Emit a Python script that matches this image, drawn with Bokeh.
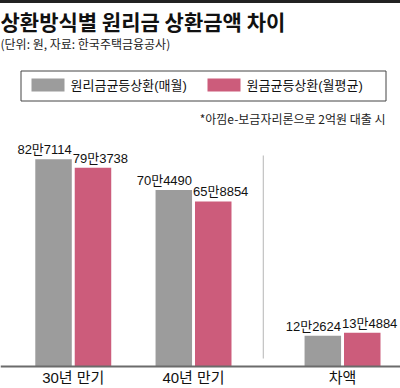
import numpy as np
from bokeh.plotting import figure
from bokeh.models import Range1d, Label, Span, ColumnDataSource
from bokeh.core.properties import value
from bokeh.embed import file_html
from bokeh.resources import INLINE

# ---------------- data ----------------
categories = ["30년 만기", "40년 만기", "차액"]
series_names = ["원리금균등상환(매월)", "원금균등상환(월평균)"]
equal_payment = [827114, 704490, 122624]      # 원리금균등상환(매월)
equal_principal = [793738, 658854, 134884]    # 원금균등상환(월평균)
title_text = "상환방식별 원리금 상환금액 차이"
subtitle_text = "(단위: 원, 자료: 한국주택금융공사)"
note_text = "*아낌e-보금자리론으로 2억원 대출 시"

# ---------------- style / layout ----------------
RULE = 3                      # top rule thickness (CSS border), px
W, H = 400, 388 - RULE
BASE_PX = 366 - RULE          # baseline position from canvas top, px
PX_PER_WON = 2.505e-4
Y_MAX = BASE_PX / PX_PER_WON
Y_MIN = -(H - BASE_PX) / PX_PER_WON
X0, X1 = -0.605, 2.721
GRAY = "#9c9c9c"
PINK = "#cc5c7b"
COLORS = [GRAY, PINK]
KR = "Noto Sans CJK KR"
MIXED = "Liberation Sans, Noto Sans CJK KR"
NARROW = "Liberation Sans Narrow, Liberation Sans, Noto Sans CJK KR"

def fmt(v):
    return f"{v // 10000}만{v % 10000}"

def px_to_y(px_from_top):          # px measured from the top of the picture
    return (BASE_PX - (px_from_top - RULE)) / PX_PER_WON

def px_to_x(px_from_left):
    return X0 + px_from_left / W * (X1 - X0)

# group positions: extra gap before the last ("차액") group
pos = np.arange(len(categories), dtype=float)
pos[2:] += 0.239
DODGE = 0.164
BAR_W = 0.3035

p = figure(width=W, height=H, output_backend="svg", toolbar_location=None,
           x_range=Range1d(X0, X1), y_range=Range1d(Y_MIN, Y_MAX),
           min_border=0)
p.styles = {"border-top": f"{RULE}px solid #222222"}
p.outline_line_color = None
p.xgrid.visible = False
p.ygrid.visible = False
p.xaxis.visible = False
p.yaxis.visible = False
p.background_fill_color = "white"
p.border_fill_color = "white"

src = ColumnDataSource(dict(
    x=pos, x1=pos - DODGE, x2=pos + DODGE, zero=[0, 0, 0], cat=categories,
    v1=equal_payment, v2=equal_principal,
    t1=[fmt(v) for v in equal_payment], t2=[fmt(v) for v in equal_principal],
    r1=pos - DODGE + BAR_W / 2, l2=pos + DODGE - BAR_W / 2,
))

r1 = p.vbar(x="x1", top="v1", width=BAR_W, source=src, fill_color=GRAY, line_color=None)
r2 = p.vbar(x="x2", top="v2", width=BAR_W, source=src, fill_color=PINK, line_color=None)

p.text(x="r1", y="v1", text="t1", source=src, text_align="right", text_baseline="bottom",
       y_offset=-2, text_font=value(NARROW), text_font_size="13px", text_color="#111111")
p.text(x="l2", y="v2", text="t2", source=src, text_align="left", text_baseline="bottom",
       x_offset=-2, y_offset=-2, text_font=value(NARROW), text_font_size="13px",
       text_color="#111111")

# baseline (x axis line) and category labels
p.add_layout(Span(location=0, dimension="width", line_color="#6b6b6b", line_width=2))
p.text(x="x", y="zero", text="cat", source=src, text_align="center", text_baseline="top",
       y_offset=2, text_font=value(MIXED), text_font_size="15px", text_color="#111111")

# separator between maturity groups and difference group
SEP_X = 1.58
p.segment(x0=[SEP_X], x1=[SEP_X], y0=[px_to_y(358)], y1=[px_to_y(155)],
          line_color="#b5b5b5", line_width=1)

def lab(text, x, y_top, size, style="normal", align="left", color="#111111", font=KR):
    p.add_layout(Label(x=x, y=H - (y_top - RULE), x_units="screen", y_units="screen",
                       text=text, text_align=align, text_baseline="top",
                       text_font=font, text_font_size=size, text_font_style=style,
                       text_color=color))

lab(title_text, 0, 5, "21px", style="bold")
lab(subtitle_text, 0, 34, "12px", color="#222222")
lab(note_text, 385, 109, "12px", align="right", color="#222222")

# legend (box, swatches, labels)
p.quad(left=[px_to_x(20.5)], right=[px_to_x(385.5)], top=[px_to_y(70.5)],
       bottom=[px_to_y(100.5)], fill_color="white", line_color="#444444", line_width=1)
leg = ColumnDataSource(dict(
    l=[px_to_x(31), px_to_x(207)], r=[px_to_x(64), px_to_x(240)],
    t=[px_to_y(78), px_to_y(78)], b=[px_to_y(91), px_to_y(91)],
    tx=[px_to_x(70), px_to_x(246)], ty=[px_to_y(85), px_to_y(85)],
    name=series_names, color=COLORS,
))
p.quad(left="l", right="r", top="t", bottom="b", source=leg,
       fill_color="color", line_color=None)
p.text(x="tx", y="ty", text="name", source=leg, text_align="left", text_baseline="middle",
       text_font=value(MIXED), text_font_size="13px", text_color="#111111")

open("out.html", "w").write(file_html(p, INLINE))
